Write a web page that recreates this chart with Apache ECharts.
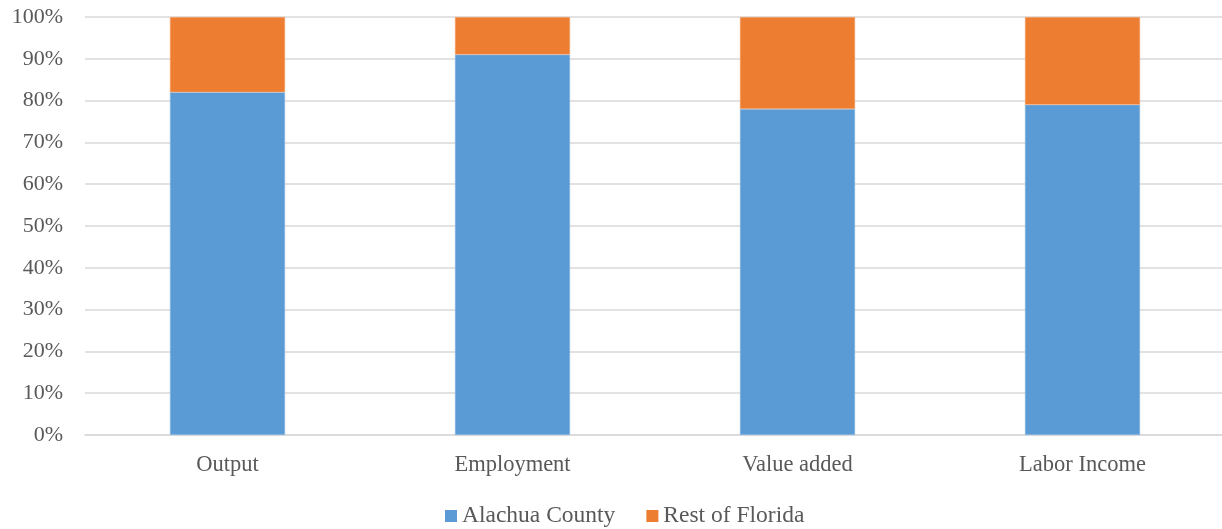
<!DOCTYPE html>
<html><head><meta charset="utf-8">
<script src="https://cdn.jsdelivr.net/npm/echarts@6/dist/echarts.min.js"></script>
<style>html,body{margin:0;padding:0;background:#fff;overflow:hidden;width:1222px;height:529px}#c{width:1225px;height:529px}</style>
</head><body><div id="c"></div>
<script>
const categories = ["Output", "Employment", "Value added", "Labor Income"];
const alachua = [82, 91, 78, 79];
const restOfFlorida = [18, 9, 22, 21];
const yTicks = [0, 10, 20, 30, 40, 50, 60, 70, 80, 90, 100];

const font = "'Liberation Serif', 'Times New Roman', serif";
const chart = echarts.init(document.getElementById('c'));
chart.setOption({
  animation: false,
  textStyle: { fontFamily: font },
  legend: {
    top: 499, left: 440, itemWidth: 12, itemHeight: 12, itemGap: 31,
    icon: 'rect',
    itemStyle: { borderWidth: 0 },
    textStyle: { fontFamily: font, fontSize: 23.5, color: '#595959', padding: [2, 0, 0, 0] },
    data: ['Alachua County', 'Rest of Florida']
  },
  grid: { left: 85, top: 17, right: 0, height: 418, containLabel: false },
  xAxis: {
    type: 'category', data: categories,
    axisLine: { lineStyle: { color: '#d9d9d9', width: 1.5 } },
    axisTick: { show: false },
    axisLabel: { fontFamily: font, fontSize: 22.5, color: '#595959', margin: 19 }
  },
  yAxis: {
    type: 'value', min: 0, max: 100, interval: 10,
    axisLine: { show: false }, axisTick: { show: false },
    splitLine: { lineStyle: { color: '#d9d9d9', width: 1.5 } },
    axisLabel: { fontFamily: font, fontSize: 22, color: '#595959', margin: 22,
      formatter: v => yTicks.includes(v) ? v + '%' : '' }
  },
  series: [
    { name: 'Alachua County', type: 'bar', stack: 's', data: alachua, barWidth: '40.4%',
      itemStyle: { color: '#5b9bd5', borderColor: '#9dc3e6', borderWidth: 0.5 } },
    { name: 'Rest of Florida', type: 'bar', stack: 's', data: restOfFlorida, barWidth: '40.4%',
      itemStyle: { color: '#ed7d31', borderColor: '#f4b183', borderWidth: 0.5 } }
  ]
});
</script></body></html>
